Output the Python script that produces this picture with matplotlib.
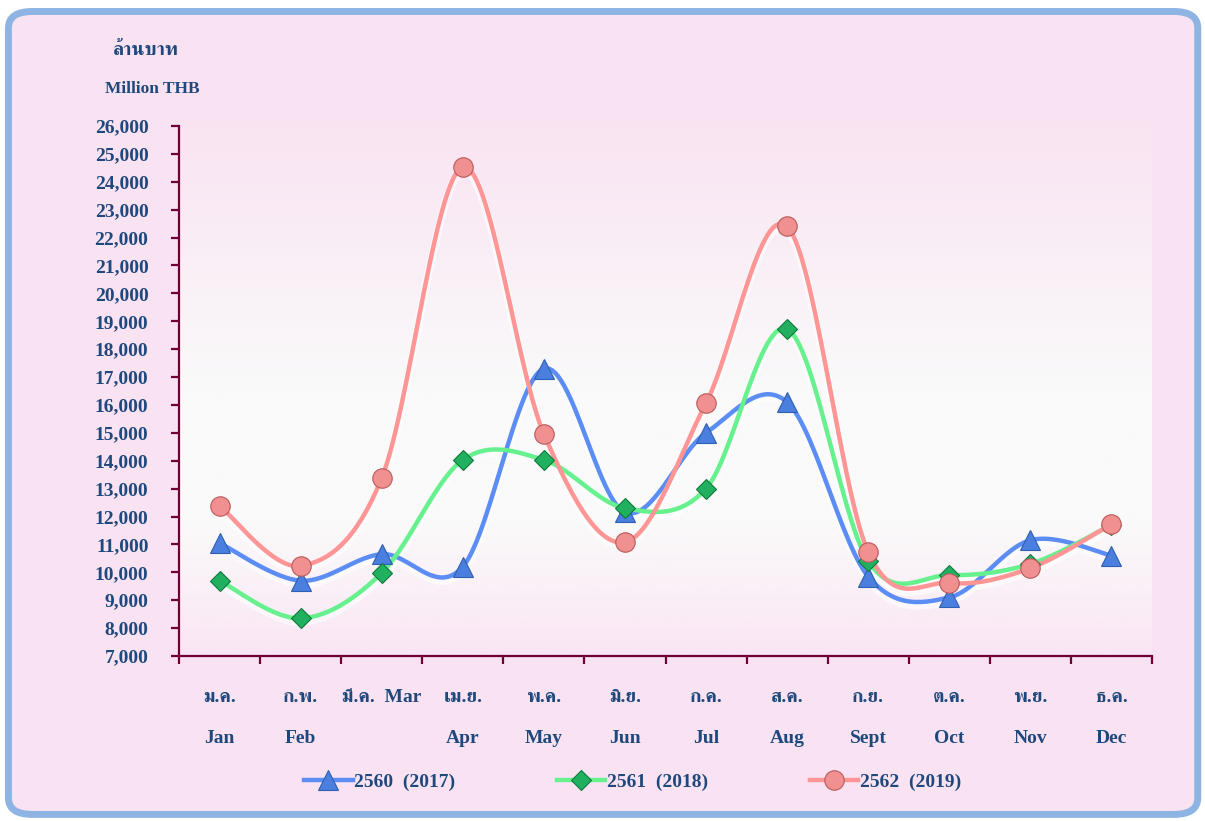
import numpy as np
import matplotlib
matplotlib.use("Agg")
import matplotlib.pyplot as plt
from matplotlib import font_manager, ft2font
from matplotlib.patches import FancyBboxPatch
from matplotlib.lines import Line2D

# data (million THB)
months_th = ["ม.ค.", "ก.พ.", "มี.ค.  Mar", "เม.ย.", "พ.ค.", "มิ.ย.",
             "ก.ค.", "ส.ค.", "ก.ย.", "ต.ค.", "พ.ย.", "ธ.ค."]
months_en = ["Jan", "Feb", "", "Apr", "May", "Jun",
             "Jul", "Aug", "Sept", "Oct", "Nov", "Dec"]
y2560 = [11050, 9700, 10650, 10200, 17300, 12150, 15000, 16100, 9850, 9100, 11150, 10600]
y2561 = [9700, 8350, 9980, 14030, 14030, 12300, 13000, 18720, 10400, 9900, 10300, 11700]
y2562 = [12380, 10230, 13380, 24530, 14960, 11080, 16070, 22400, 10730, 9620, 10150, 11730]
names = ["2560  (2017)", "2561  (2018)", "2562  (2019)"]

txt = "#1F497D"
axc = "#6E0036"
fs = 14

# find an installed family that has thai letters
thai = []
for f in font_manager.fontManager.ttflist:
    try:
        cm = ft2font.FT2Font(f.fname).get_charmap()
    except Exception:
        continue
    if 0x0E01 in cm and 0x0E40 in cm and f.name not in thai:
        thai.append(f.name)
thai.sort(key=lambda n: ("Serif" not in n, "Looped" in n, n))
fam = ["Liberation Serif"] + thai[:2] + ["DejaVu Sans"]
plt.rcParams["font.family"] = fam
plt.rcParams["font.weight"] = "bold"


def smooth(xs, ys, n=30):
    # excel-like smoothed line (bezier through the points)
    p = np.column_stack([xs, ys]).astype(float)
    ext = np.vstack([p[0], p, p[-1]])
    out = []
    t = np.linspace(0, 1, n)[:, None]
    for i in range(len(p) - 1):
        p0, p3 = ext[i + 1], ext[i + 2]
        c1 = p0 + (ext[i + 2] - ext[i]) / 6
        c2 = p3 - (ext[i + 3] - ext[i + 1]) / 6
        seg = (1 - t) ** 3 * p0 + 3 * (1 - t) ** 2 * t * c1 + 3 * (1 - t) * t ** 2 * c2 + t ** 3 * p3
        out.append(seg if i == 0 else seg[1:])
    out = np.vstack(out)
    return out[:, 0], out[:, 1]


fig = plt.figure(figsize=(12.05, 8.21), dpi=100)
fig.patch.set_facecolor("white")
frame = FancyBboxPatch((0.007, 0.008), 0.987, 0.978, boxstyle="round,pad=0,rounding_size=0.02",
                       transform=fig.transFigure, facecolor="#F9E2F2", edgecolor="#8DB4E2",
                       linewidth=5, zorder=-10)
fig.patches.append(frame)

ax = fig.add_axes([179 / 1205, 1 - 656 / 821, (1152 - 179) / 1205, (656 - 126) / 821])
ax.set_zorder(2)
ax.set_facecolor("none")

# plot area gradient
top = np.array([249, 228, 242]) / 255
mid = np.array([250, 250, 250]) / 255
bot = np.array([250, 230, 244]) / 255
v = np.linspace(0, 1, 200)[:, None]
grad = np.where(v < 0.5, top + (mid - top) * np.clip(v / 0.5, 0, 1),
                mid + (bot - mid) * np.clip((v - 0.75) / 0.25, 0, 1))
ax.imshow(grad[:, None, :], extent=[0, 1, 0, 1], transform=ax.transAxes, aspect="auto", zorder=0)

x = np.arange(12)
series = [
    (y2560, "#5B8DF5", "^", "#4A7FE0", "#2F5FB0", 15),
    (y2561, "#66F08E", "D", "#20B060", "#0D7A3A", 10),
    (y2562, "#FF9595", "o", "#F09090", "#B85A5A", 14),
]
handles = []
for (ys, lc, mk, mfc, mec, ms), nm in zip(series, names):
    sx, sy = smooth(x, ys)
    ax.plot(sx, sy - 120, color="white", lw=6, alpha=0.6, zorder=2, solid_capstyle="round")
    ax.plot(sx, sy, color=lc, lw=3.2, zorder=3, solid_capstyle="round")
    ax.plot(x, ys, ls="none", marker=mk, ms=ms, mfc=mfc, mec=mec, mew=0.8, zorder=4)
    handles.append(Line2D([], [], color=lc, lw=3.2, marker=mk, ms=ms, mfc=mfc, mec=mec, mew=0.8))

ax.set_xlim(-0.5, 11.5)
ax.set_ylim(7000, 26000)
ax.set_yticks(np.arange(7000, 26001, 1000))
ax.set_yticklabels([f"{t:,}" for t in range(7000, 26001, 1000)])
ax.set_xticks(np.arange(-0.5, 12, 1))
ax.set_xticklabels([])
for s in ["top", "right"]:
    ax.spines[s].set_visible(False)
for s in ["left", "bottom"]:
    ax.spines[s].set_color(axc)
    ax.spines[s].set_linewidth(1.6)
ax.tick_params(axis="y", direction="out", length=6, width=1.6, color=axc,
               labelcolor=txt, labelsize=fs, pad=16)
ax.tick_params(axis="x", direction="out", length=6, width=1.6, color=axc)
for lab in ax.get_yticklabels():
    lab.set_fontweight("bold")

tr = ax.get_xaxis_transform()
for i in range(12):
    ax.text(i, -0.078, months_th[i], transform=tr, ha="center", va="center",
            fontsize=fs, fontweight="bold", color=txt, family=fam)
    ax.text(i, -0.155, months_en[i], transform=tr, ha="center", va="center",
            fontsize=fs, fontweight="bold", color=txt, family=fam)

fig.text(146 / 1205, 1 - 50 / 821, "ล้านบาท", ha="center", va="center",
         fontsize=fs, fontweight="bold", color=txt, family=fam)
fig.text(152 / 1205, 1 - 89 / 821, "Million THB", ha="center", va="center",
         fontsize=12.5, fontweight="bold", color=txt, family=fam)

leg = fig.legend(handles, names, loc="center", bbox_to_anchor=(0.525, 1 - 782 / 821), ncol=3,
                 frameon=False, handlelength=2.5, handletextpad=0.1, columnspacing=5.2,
                 prop={"family": fam, "weight": "bold", "size": fs})
for t in leg.get_texts():
    t.set_color(txt)

fig.savefig("out.png", dpi=100)
